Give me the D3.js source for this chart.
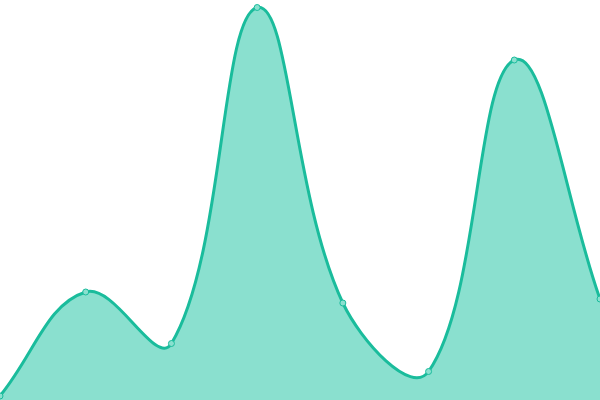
<!DOCTYPE html>
<html>
<head>
<meta charset="utf-8">
<script src="https://cdn.jsdelivr.net/npm/d3@7"></script>
<style>
  html, body { margin: 0; padding: 0; background: #fff; }
  svg { display: block; }
</style>
</head>
<body>
<div id="chart"></div>
<script>
// values (0..400 scale, bottom = 0)
const labels = ['A', 'B', 'C', 'D', 'E', 'F', 'G', 'H'];
const values = [4, 108, 56.5, 392.5, 97, 28.5, 340, 101];

const width = 600;
const height = 400;
const tension = 0.4;

// spline with distance-weighted tangents (tension 0.4)
class WeightedSpline {
    constructor(context) { this._context = context; }
    areaStart() { this._line = 0; }
    areaEnd() { this._line = NaN; }
    lineStart() { this._pts = []; }
    point(x, y) { this._pts.push([+x, +y]); }
    lineEnd() {
        const p = this._pts;
        const n = p.length;
        const ctx = this._context;
        if (n) {
            this._line ? ctx.lineTo(p[0][0], p[0][1]) : ctx.moveTo(p[0][0], p[0][1]);
            const cps = p.map((cur, i) => {
                const prev = p[Math.max(i - 1, 0)];
                const next = p[Math.min(i + 1, n - 1)];
                const d01 = Math.hypot(cur[0] - prev[0], cur[1] - prev[1]);
                const d12 = Math.hypot(next[0] - cur[0], next[1] - cur[1]);
                let s01 = d01 / (d01 + d12);
                let s12 = d12 / (d01 + d12);
                if (isNaN(s01)) s01 = 0;
                if (isNaN(s12)) s12 = 0;
                const fa = tension * s01;
                const fb = tension * s12;
                return {
                    prev: [cur[0] - fa * (next[0] - prev[0]), cur[1] - fa * (next[1] - prev[1])],
                    next: [cur[0] + fb * (next[0] - prev[0]), cur[1] + fb * (next[1] - prev[1])]
                };
            });
            for (let i = 1; i < n; i++) {
                const a = cps[i - 1].next, b = cps[i].prev;
                ctx.bezierCurveTo(a[0], a[1], b[0], b[1], p[i][0], p[i][1]);
            }
        }
        if (this._line || (this._line !== 0 && n === 1)) ctx.closePath();
        this._line = 1 - this._line;
    }
}
const curveWeighted = context => new WeightedSpline(context);

const svg = d3.select('#chart')
    .append('svg')
    .attr('width', width)
    .attr('height', height);

const x = d3.scalePoint()
    .domain(labels)
    .range([0, width]);

const y = d3.scaleLinear()
    .domain([0, 400])
    .range([height, 0]);

const data = labels.map((l, i) => ({ label: l, value: values[i] }));

const area = d3.area()
    .x(d => x(d.label))
    .y0(y(0))
    .y1(d => y(d.value))
    .curve(curveWeighted);

const line = d3.line()
    .x(d => x(d.label))
    .y(d => y(d.value))
    .curve(curveWeighted);

svg.append('path')
    .datum(data)
    .attr('d', area)
    .attr('fill', '#8ae0cf');

svg.append('path')
    .datum(data)
    .attr('d', line)
    .attr('fill', 'none')
    .attr('stroke', '#1abc9c')
    .attr('stroke-width', 3);

svg.selectAll('.dot')
    .data(data)
    .join('circle')
    .attr('class', 'dot')
    .attr('cx', d => x(d.label))
    .attr('cy', d => y(d.value))
    .attr('r', 3)
    .attr('fill', '#8ae0cf')
    .attr('stroke', '#1abc9c')
    .attr('stroke-width', 1);
</script>
</body>
</html>
